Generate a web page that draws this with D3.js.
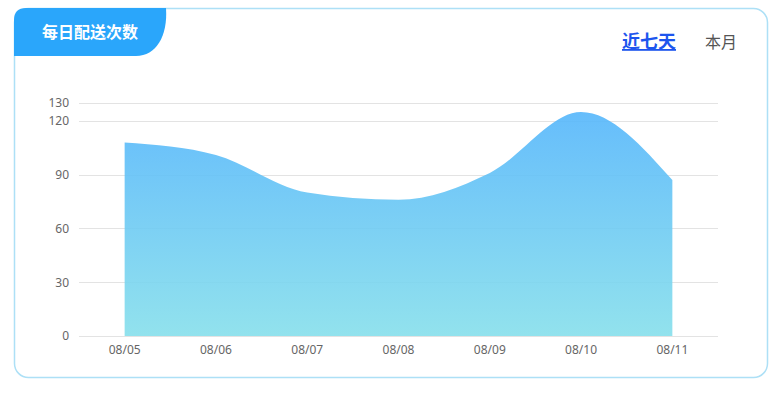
<!DOCTYPE html>
<html><head><meta charset="utf-8">
<script src="https://cdn.jsdelivr.net/npm/d3@7/dist/d3.min.js"></script>
<style>
html,body{margin:0;padding:0;background:#fff;}
svg{display:block;font-family:"Microsoft YaHei","Noto Sans CJK SC",sans-serif;}
</style></head><body>
<svg id="c" width="776" height="396"></svg>
<script>
const categories = ["08/05","08/06","08/07","08/08","08/09","08/10","08/11"];
const values = [108, 101, 80, 76, 91, 125, 87];
const yTicks = [0, 30, 60, 90, 120, 130];
const title = "每日配送次数";
const tabs = ["近七天", "本月"];

const svg = d3.select("#c");
const defs = svg.append("defs");
const g = defs.append("linearGradient").attr("id","ag").attr("x1",0).attr("y1",0).attr("x2",0).attr("y2",1);
g.append("stop").attr("offset","0%").attr("stop-color","#55b6fb");
g.append("stop").attr("offset","100%").attr("stop-color","#86dfeb");

// card
svg.append("rect").attr("x",14.5).attr("y",8.5).attr("width",753).attr("height",369)
  .attr("rx",14).attr("fill","#fff").attr("stroke","#ade0f6").attr("stroke-width",1.5);

// title tab
const tx0=14, ty0=8, tx1=166, ty1=56;
svg.append("path").attr("d",
  `M${tx0},${ty0+12} Q${tx0},${ty0} ${tx0+12},${ty0} L${tx1},${ty0} ` +
  `C${tx1+2},${ty0+28} ${tx1-10},${ty1} ${tx1-30},${ty1} L${tx0},${ty1} Z`)
  .attr("fill","#2aa6fb");
svg.append("text").attr("x",90).attr("y",38).attr("text-anchor","middle")
  .attr("fill","#fff").attr("font-size",16).attr("font-weight","bold").text(title);

svg.append("text").attr("x",649).attr("y",48).attr("text-anchor","middle")
  .attr("fill","#1d55ee").attr("font-size",18).attr("font-weight","bold")
  .attr("text-decoration","underline").text(tabs[0]);
svg.append("text").attr("x",721).attr("y",48).attr("text-anchor","middle")
  .attr("fill","#555").attr("font-size",16).text(tabs[1]);

const x = d3.scaleBand().domain(categories).range([79,718]);
const y = d3.scaleLinear().domain([0,130]).range([336,103]);

// grid
const grid = svg.append("g");
grid.selectAll("line").data(yTicks).join("line")
  .attr("x1",79).attr("x2",718)
  .attr("y1",d=>Math.round(y(d))+0.5).attr("y2",d=>Math.round(y(d))+0.5)
  .attr("stroke","#e3e3e3").attr("stroke-width",1);

const area = d3.area()
  .x((d,i)=>x(categories[i])+x.bandwidth()/2)
  .y0(y(0)).y1(d=>y(d))
  .curve(d3.curveMonotoneX);
svg.append("path").datum(values).attr("d",area).attr("fill","url(#ag)").attr("fill-opacity",0.9);

// y axis
const ya = svg.append("g").attr("transform","translate(79,0)")
  .call(d3.axisLeft(y).tickValues(yTicks).tickSize(0).tickPadding(10));
ya.select(".domain").remove();
ya.selectAll("text").attr("fill","#666").attr("font-size",12)
  .attr("font-family","\"Microsoft YaHei\",\"Noto Sans\",sans-serif");

const xa = svg.append("g").attr("transform","translate(0,336)")
  .call(d3.axisBottom(x).tickSize(0).tickPadding(9));
xa.select(".domain").remove();
xa.selectAll("text").attr("fill","#666").attr("font-size",12)
  .attr("font-family","\"Microsoft YaHei\",\"Noto Sans\",sans-serif");
</script>
</body></html>
